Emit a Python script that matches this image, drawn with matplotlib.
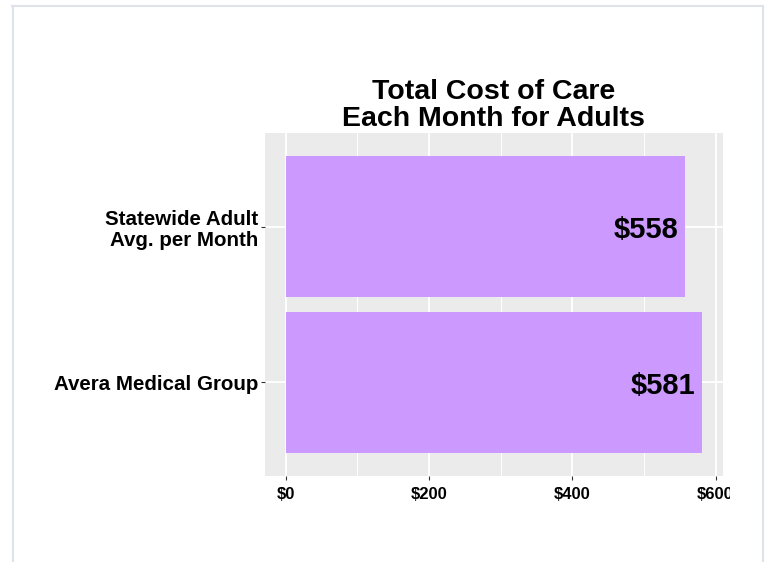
import matplotlib.pyplot as plt
from matplotlib.lines import Line2D
from matplotlib.patches import Rectangle
from matplotlib.ticker import MultipleLocator

# Data
categories = ['Avera Medical Group', 'Statewide Adult\nAvg. per Month']
costs = [581, 558]
x_ticks = [0, 200, 400, 600]
x_tick_labels = ['$0', '$200', '$400', '$600']

BAR_COLOR = '#CC99FF'
PANEL_COLOR = '#EBEBEB'
FRAME_COLOR = '#DEE2E9'

plt.rcParams['font.family'] = ['Liberation Sans', 'DejaVu Sans']

W, H = 768, 562
fig = plt.figure(figsize=(W / 100, H / 100), dpi=100)
ax = fig.add_axes([265 / W, 1 - 476 / H, (722.7 - 265) / W, (476 - 133) / H])
ax.set_facecolor(PANEL_COLOR)

ypos = list(range(len(categories)))
ax.barh(ypos, costs, height=0.9, color=BAR_COLOR, zorder=3)

for y, v in zip(ypos, costs):
    ax.annotate(f'${v}', xy=(v, y), xytext=(-5, -2.5), textcoords='offset points',
                ha='right', va='center', fontsize=21, fontweight='bold',
                color='black', zorder=4)

# ggplot-like scales and grid
vmax = max(costs)
ax.set_xlim(-0.05 * vmax, 1.05 * vmax)
ax.set_ylim(-0.6, len(categories) - 0.4)
ax.set_xticks(x_ticks)
ax.set_xticklabels(x_tick_labels)
ax.xaxis.set_minor_locator(MultipleLocator(100))
ax.set_yticks(ypos)
ax.set_yticklabels(categories, linespacing=1.15)

ax.grid(which='major', color='white', linewidth=1.3, zorder=1)
ax.grid(which='minor', axis='x', color='white', linewidth=0.7, zorder=1)
ax.set_axisbelow(True)
for s in ax.spines.values():
    s.set_visible(False)

ax.tick_params(axis='both', which='major', length=3, width=0.8, color='#333333')
ax.tick_params(axis='x', which='minor', length=0)
ax.tick_params(axis='x', labelsize=12, pad=5)
ax.tick_params(axis='y', labelsize=14.8, pad=2)
for lbl in ax.get_xticklabels() + ax.get_yticklabels():
    lbl.set_fontweight('bold')

ax.set_title('Total Cost of Care\nEach Month for Adults', fontsize=20.5,
             fontweight='bold', linespacing=1.05, pad=5)

# reference image is cropped on the right, cutting the last tick label
fig.add_artist(Rectangle((730 / W, 0), 30 / W, 0.97, transform=fig.transFigure,
                         facecolor='white', edgecolor='none', zorder=10))

# thin frame around the image
fig.add_artist(Line2D([12.5 / W, 12.5 / W], [0, 1 - 5.5 / H], transform=fig.transFigure,
                      color=FRAME_COLOR, linewidth=1.5, zorder=11))
fig.add_artist(Line2D([12 / W, 763 / W], [1 - 5.5 / H, 1 - 5.5 / H], transform=fig.transFigure,
                      color=FRAME_COLOR, linewidth=1.5, zorder=11))
fig.add_artist(Line2D([762.5 / W, 762.5 / W], [0, 1 - 5.5 / H], transform=fig.transFigure,
                      color=FRAME_COLOR, linewidth=1.5, zorder=11))

fig.savefig('out.png', dpi=100)
